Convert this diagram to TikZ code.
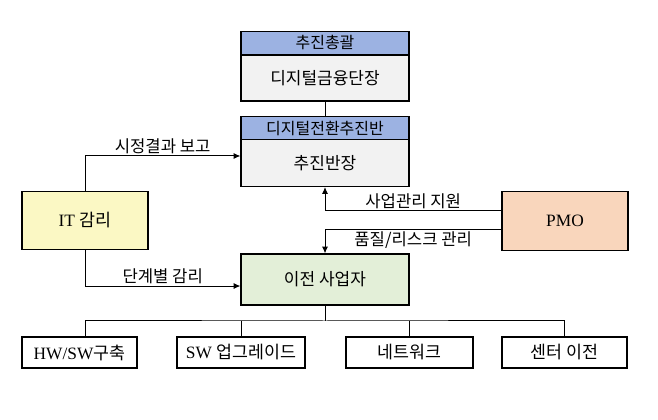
\documentclass[tikz,border=0pt]{standalone}
\usepackage{fontspec}
\usepackage{xcolor}
\usepackage{tikz}
\usetikzlibrary{arrows.meta}
\setmainfont{Liberation Serif}
\newfontfamily\kr{Noto Sans CJK KR}
\definecolor{hdblue}{HTML}{9CB2E2}
\definecolor{bdgray}{HTML}{F2F2F2}
\definecolor{auditylw}{HTML}{FBF8C4}
\definecolor{movegreen}{HTML}{E3EFD8}
\definecolor{pmopeach}{HTML}{F9D6BC}

\begin{document}
\begin{tikzpicture}[
    x=0.75pt,y=-0.75pt,
    hdbox/.style={draw=black, line width=0.9pt, fill=hdblue, minimum width=126pt, minimum height=17.25pt, inner sep=0pt, font=\fontsize{12}{13}\selectfont\kr},
    bodybox/.style={draw=black, line width=0.9pt, fill=bdgray, minimum width=126pt, minimum height=34.5pt, inner sep=0pt, font=\fontsize{12.75}{14}\selectfont\kr},
    sidebox/.style={draw=black, line width=0.9pt, minimum width=94.5pt, minimum height=44pt, inner sep=0pt, font=\fontsize{13}{14}\selectfont},
    taskbox/.style={draw=black, line width=1pt, fill=white, minimum height=23.25pt, inner sep=0pt, font=\fontsize{13}{14}\selectfont},
    lbl/.style={font=\fontsize{12.5}{13}\selectfont\kr, inner sep=1pt},
    arr/.style={draw=black, line width=0.75pt, -{Latex[length=5pt,width=4.5pt]}},
    link/.style={draw=black, line width=0.75pt}
  ]
    \useasboundingbox (0,0) rectangle (658,420);

    % governance chain
    \node[hdbox] (hd1) at (325,43) {추진총괄};
    \node[bodybox] (bd1) at (325,78) {디지털금융단장};
    \node[hdbox] (hd2) at (325,128) {디지털전환추진반};
    \node[bodybox, minimum height=35.25pt] (bd2) at (325,163) {추진반장};
    \draw[link] (bd1.south) -- (hd2.north);

    % side parties
    \node[sidebox, fill=auditylw] (it) at (85,220.5) {IT {\kr 감리}};
    \node[sidebox, fill=pmopeach] (pmo) at (565,221) {PMO};
    \node[bodybox, fill=movegreen, minimum height=38.25pt] (mover) at (325,279.5) {이전 사업자};

    \draw[arr] (it.north) |- ([yshift=5.25pt]bd2.west) node[lbl, above, pos=0.75] {시정결과 보고};
    \draw[arr] (it.south) |- ([yshift=-4.9pt]mover.west) node[lbl, above, pos=0.75] {단계별 감리};
    \draw[arr] ([yshift=7.5pt]pmo.west) -| (bd2.south) node[lbl, above, pos=0.25] {사업관리 지원};
    \draw[arr] ([yshift=-6.75pt]pmo.west) -| (mover.north) node[lbl, below, pos=0.25] {품질/리스크 관리};

    % work packages
    \node[taskbox, minimum width=86.25pt] (hwsw) at (79.5,352.5) {HW/SW{\kr 구축}};
    \node[taskbox, minimum width=96pt] (swup) at (241,352.5) {SW {\kr 업그레이드}};
    \node[taskbox, minimum width=95.25pt] (net) at (409.5,352.5) {\kr 네트워크};
    \node[taskbox, minimum width=93.75pt] (ctr) at (564.5,352.5) {\kr 센터 이전};

    \coordinate (bus) at (325,321);
    \draw[link] (mover.south) -- (bus);
    \draw[link] (it.south |- hwsw.north) |- (bus) -| (ctr.north);
    \draw[link] (swup.north) -- (swup.north |- bus);
    \draw[link] (net.north) -- (net.north |- bus);
\end{tikzpicture}
\end{document}
